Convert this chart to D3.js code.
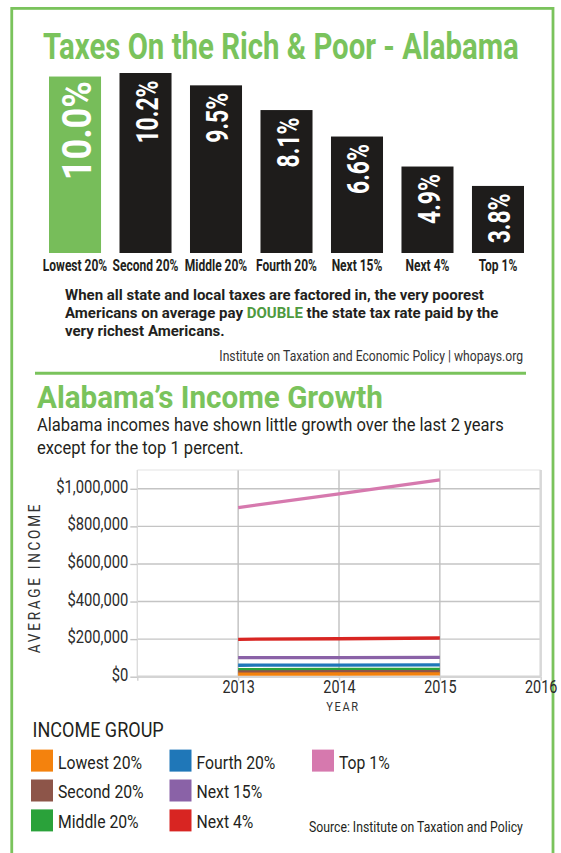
<!DOCTYPE html>
<html><head><meta charset="utf-8">
<script src="https://cdn.jsdelivr.net/npm/d3@7"></script>
<style>html,body{margin:0;padding:0;background:#fff;} svg{display:block;}</style>
</head><body>
<script>
// ---------- DATA ----------
const taxCategories = ["Lowest 20%", "Second 20%", "Middle 20%", "Fourth 20%", "Next 15%", "Next 4%", "Top 1%"];
const taxRates = [10.0, 10.2, 9.5, 8.1, 6.6, 4.9, 3.8];

const axisYears = [2012, 2013, 2014, 2015, 2016];
const dataYears = [2013, 2014, 2015];
const incomeTicks = [0, 200000, 400000, 600000, 800000, 1000000];

const groupNames = ["Lowest 20%", "Second 20%", "Middle 20%", "Fourth 20%", "Next 15%", "Next 4%", "Top 1%"];
const lowest20 = [14000, 14300, 14600];
const second20 = [26000, 26500, 27000];
const middle20 = [38000, 38500, 39000];
const fourth20 = [61000, 62000, 63000];
const next15 = [101000, 102000, 103000];
const next4 = [199000, 202000, 206000];
const top1 = [900000, 973000, 1048000];
const groupColors = ["#f4820d", "#8d5549", "#2aa23a", "#1f77b8", "#8a62a7", "#d82522", "#d679ae"];

// ---------- SETUP ----------
const W = 561, H = 853;
const FONT = "Roboto, 'Liberation Sans', Arial, sans-serif";
const GREEN = "#7ac35c";
const DARK = "#231f20";
const svg = d3.select("body").append("svg").attr("width", W).attr("height", H)
  .style("font-family", FONT);

function squeeze(sel, sx) {
  sel.each(function () {
    const t = d3.select(this);
    const x = +t.attr("x") || 0, y = +t.attr("y") || 0;
    t.attr("transform", `translate(${x},${y}) scale(${sx},1) translate(${-x},${-y})`);
  });
}
function fitWidth(sel, width) {
  const w = sel.node().getComputedTextLength();
  squeeze(sel, width / w);
  return width / w;
}

// outer frame
svg.append("rect").attr("x", 11.75).attr("y", 8.4).attr("width", 541.25).attr("height", H + 20)
  .attr("fill", "none").attr("stroke", GREEN).attr("stroke-width", 2.8);

// ---------- SECTION 1 ----------
const t1 = svg.append("text").attr("x", 43).attr("y", 59).attr("font-size", 37).attr("font-weight", 700)
  .attr("fill", GREEN).text("Taxes On the Rich & Poor - Alabama");
fitWidth(t1, 476);

const xBand = d3.scaleBand().domain(taxCategories).range([49, 524]).paddingInner(0.262).paddingOuter(0);
const yBar = d3.scaleLinear().domain([0, 10.2]).range([253, 73]);

svg.append("g").selectAll("rect").data(taxRates).join("rect")
  .attr("x", (d, i) => xBand(taxCategories[i]))
  .attr("y", d => yBar(d))
  .attr("width", xBand.bandwidth())
  .attr("height", d => yBar(0) - yBar(d))
  .attr("fill", (d, i) => i === 0 ? "#77bd5a" : "#1e1c1b");

svg.append("g").selectAll("text").data(taxRates).join("text")
  .attr("text-anchor", "end")
  .attr("font-weight", 700)
  .attr("fill", "#fff")
  .attr("font-size", (d, i) => i === 0 ? 41 : 31)
  .attr("transform", (d, i) => {
    const fs = i === 0 ? 41 : 31;
    const sx = i === 0 ? 0.88 : 0.74;
    const off = i === 0 ? 4.5 : 7.5;
    const cx = xBand(taxCategories[i]) + xBand.bandwidth() / 2;
    return `translate(${cx + fs * 0.711 / 2 + 1},${yBar(d) + off}) rotate(-90) scale(${sx},1)`;
  })
  .text(d => d.toFixed(1) + "%");

const catLabels = svg.append("g").selectAll("text").data(taxCategories).join("text")
  .attr("x", d => xBand(d) + xBand.bandwidth() / 2)
  .attr("y", 271.5)
  .attr("text-anchor", "middle")
  .attr("font-size", 16).attr("font-weight", 700).attr("fill", DARK)
  .text(d => d);
squeeze(catLabels, 0.75);

// paragraph (one text block, three lines)
const para = svg.append("text").attr("x", 65).attr("y", 300.3)
  .attr("font-size", 15.3).attr("font-weight", 700).attr("fill", DARK);
const l1 = para.append("tspan").attr("x", 65).attr("y", 300.3)
  .text("When all state and local taxes are factored in, the very poorest");
para.append("tspan").attr("x", 65).attr("y", 318.3).text("Americans on average pay ");
para.append("tspan").attr("fill", "#4f9a3f").text("DOUBLE");
para.append("tspan").text(" the state tax rate paid by the");
para.append("tspan").attr("x", 65).attr("y", 336.3).text("very richest Americans.");
const pScale = 419 / l1.node().getComputedTextLength();
squeeze(para, pScale);

const s1 = svg.append("text").attr("x", 523).attr("y", 361.5).attr("text-anchor", "end")
  .attr("font-size", 15).attr("fill", "#333")
  .text("Institute on Taxation and Economic Policy | whopays.org");
fitWidth(s1, 304);

svg.append("line").attr("x1", 35).attr("x2", 526).attr("y1", 373.3).attr("y2", 373.3)
  .attr("stroke", GREEN).attr("stroke-width", 3);

// ---------- SECTION 2 ----------
const t2 = svg.append("text").attr("x", 37).attr("y", 408).attr("font-size", 32).attr("font-weight", 700)
  .attr("fill", GREEN).text("Alabama\u2019s Income Growth");
fitWidth(t2, 346);

const sub1 = svg.append("text").attr("x", 37).attr("y", 431.5).attr("font-size", 18).attr("fill", DARK)
  .text("Alabama incomes have shown little growth over the last 2 years");
const sub2 = svg.append("text").attr("x", 37).attr("y", 454).attr("font-size", 18).attr("fill", DARK)
  .text("except for the top 1 percent.");
const subScale = fitWidth(sub1, 467);
squeeze(sub2, subScale);

const x = d3.scaleLinear().domain([2012, 2016]).range([137.3, 540.7]);
const y = d3.scaleLinear().domain([0, 1100000]).range([676.7, 470]);

const grid = svg.append("g");
grid.selectAll(".hg").data(incomeTicks.filter(d => d > 0)).join("line")
  .attr("x1", x(2012)).attr("x2", x(2016))
  .attr("y1", d => y(d)).attr("y2", d => y(d))
  .attr("stroke", "#c4c4c4").attr("stroke-width", 1.4);
grid.selectAll(".vg").data(dataYears).join("line")
  .attr("x1", d => x(d)).attr("x2", d => x(d))
  .attr("y1", y.range()[1]).attr("y2", y(0))
  .attr("stroke", "#c0c0c0").attr("stroke-width", 1.4);
// frame
grid.append("line").attr("x1", x(2012)).attr("x2", x(2016)).attr("y1", y.range()[1]).attr("y2", y.range()[1])
  .attr("stroke", "#e4e4e4").attr("stroke-width", 1.2);
grid.append("line").attr("x1", x(2012)).attr("x2", x(2012)).attr("y1", y.range()[1]).attr("y2", y(0))
  .attr("stroke", "#dcdcdc").attr("stroke-width", 1.4);
grid.append("line").attr("x1", x(2016)).attr("x2", x(2016)).attr("y1", y.range()[1]).attr("y2", y(0))
  .attr("stroke", "#d8d8d8").attr("stroke-width", 2.5);
grid.append("line").attr("x1", x(2012)).attr("x2", x(2016)).attr("y1", y(0)).attr("y2", y(0))
  .attr("stroke", "#d4d4d4").attr("stroke-width", 2.5);

// axes
const yAxis = svg.append("g").attr("transform", `translate(${x(2012)},0)`)
  .call(d3.axisLeft(y).tickValues(incomeTicks).tickFormat(d => "$" + d3.format(",")(d)).tickSize(7).tickPadding(2));
yAxis.select(".domain").remove();
yAxis.selectAll("line").attr("stroke", "#c4c4c4").attr("stroke-width", 1.4);
yAxis.selectAll("text").attr("font-family", FONT).attr("font-size", 18).attr("fill", "#2b2b2b").attr("dy", "0.2em");
squeeze(yAxis.selectAll("text"), 0.82);

const xAxis = svg.append("g").attr("transform", `translate(0,${y(0)})`)
  .call(d3.axisBottom(x).tickValues(axisYears).tickFormat(d => d === 2012 ? "" : String(d)).tickSize(4).tickPadding(0));
xAxis.select(".domain").remove();
xAxis.selectAll("line").attr("stroke", "#d0d0d0").attr("stroke-width", 1.4);
xAxis.selectAll("text").attr("font-family", FONT).attr("font-size", 18).attr("fill", "#2b2b2b");
squeeze(xAxis.selectAll("text"), 0.8);

svg.append("text").attr("text-anchor", "middle").attr("font-size", 16).attr("letter-spacing", 3.2)
  .attr("fill", "#333")
  .attr("transform", "translate(40,577.5) rotate(-90) scale(0.85,1)")
  .text("AVERAGE INCOME");

const yr = svg.append("text").attr("x", 343).attr("y", 711.5).attr("text-anchor", "middle")
  .attr("font-size", 13).attr("letter-spacing", 2).attr("fill", "#333").text("YEAR");
squeeze(yr, 0.85);

// lines
const seriesValues = [lowest20, second20, middle20, fourth20, next15, next4, top1];
const line = d3.line().x((d, i) => x(dataYears[i])).y(d => y(d));
const order = [6, 5, 4, 3, 2, 1, 0];
svg.append("g").selectAll("path").data(order).join("path")
  .attr("d", k => line(seriesValues[k]))
  .attr("fill", "none")
  .attr("stroke", k => groupColors[k])
  .attr("stroke-width", 3.3);

// legend
const it = svg.append("text").attr("x", 32.5).attr("y", 737).attr("font-size", 20.5).attr("fill", DARK)
  .text("INCOME GROUP");
squeeze(it, 0.88);

const legendCols = [31, 169.5, 312];
const legendRow0 = 749.6, legendStep = 29.9;
const lg = svg.append("g").selectAll("g").data(groupNames).join("g")
  .attr("transform", (d, i) => `translate(${legendCols[Math.floor(i / 3)]},${legendRow0 + (i % 3) * legendStep})`);
lg.append("rect").attr("width", 22).attr("height", 22).attr("fill", (d, i) => groupColors[i]);
const lgt = lg.append("text").attr("x", 27).attr("y", 19).attr("font-size", 19).attr("fill", DARK).text(d => d);
squeeze(lgt, 0.83);

const s2 = svg.append("text").attr("x", 309).attr("y", 832).attr("font-size", 15.5).attr("fill", DARK)
  .text("Source: Institute on Taxation and Policy");
fitWidth(s2, 214);
</script>
</body></html>
